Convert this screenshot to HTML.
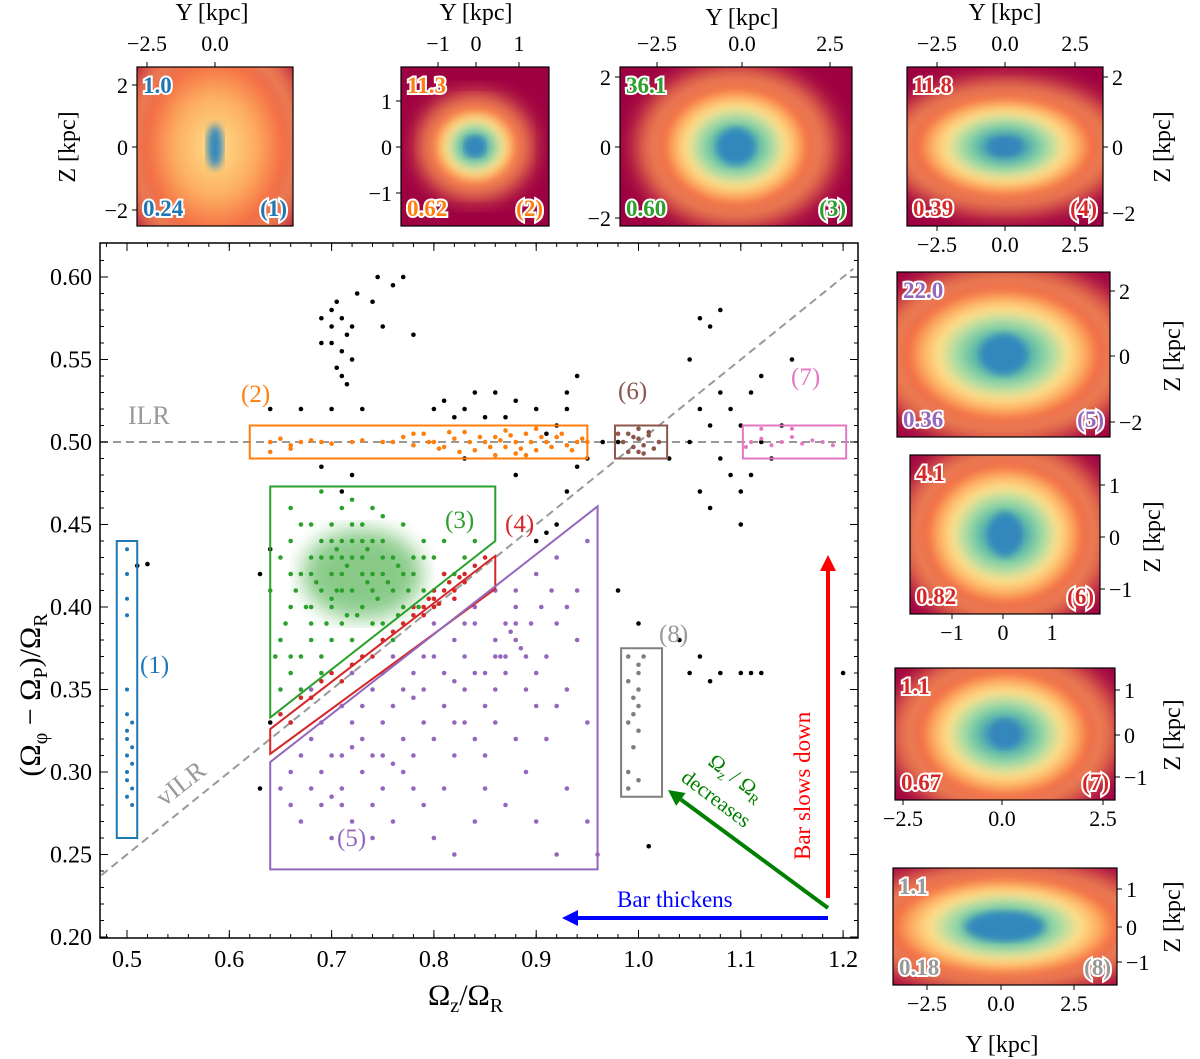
<!DOCTYPE html>
<html><head><meta charset="utf-8"><style>
html,body{margin:0;padding:0;background:#fff}
svg{display:block;font-family:"Liberation Serif","DejaVu Serif",serif}
</style></head><body>
<svg id="fig" width="1200" height="1059" viewBox="0 0 1200 1059" xmlns="http://www.w3.org/2000/svg">
<defs>
<radialGradient id="spec" cx="50%" cy="50%" r="50%">
<stop offset="0" stop-color="#5e4fa2"/><stop offset="0.15" stop-color="#3288bd"/><stop offset="0.3" stop-color="#66c2a5"/><stop offset="0.45" stop-color="#abdda4"/><stop offset="0.6" stop-color="#fee08b"/><stop offset="0.75" stop-color="#fdae61"/><stop offset="0.88" stop-color="#f46d43"/><stop offset="1" stop-color="#d53e4f" stop-opacity="0"/>
</radialGradient>
<radialGradient id="spec2" cx="50%" cy="50%" r="50%">
<stop offset="0" stop-color="#fee08b"/><stop offset="0.5" stop-color="#fdae61"/><stop offset="0.85" stop-color="#f46d43"/><stop offset="1" stop-color="#d53e4f" stop-opacity="0"/>
</radialGradient>
<filter id="blur"><feGaussianBlur stdDeviation="4"/></filter>
<filter id="blur2"><feGaussianBlur stdDeviation="10"/></filter>
</defs>
<g id="insets"></g>
<g id="main"></g>
</svg>
<script>
// ===== Main chart data =====
const xTicks=[0.5,0.6,0.7,0.8,0.9,1.0,1.1,1.2];
const yTicks=[0.20,0.25,0.30,0.35,0.40,0.45,0.50,0.55,0.60];
const blackPts=[[0.69,0.575],[0.70,0.58],[0.705,0.585],[0.71,0.575],[0.72,0.57],[0.715,0.565],[0.70,0.56],[0.71,0.555],[0.72,0.55],[0.705,0.545],[0.71,0.54],[0.715,0.535],[0.70,0.57],[0.725,0.59],[0.74,0.585],[0.76,0.595],[0.77,0.60],[0.745,0.60],[0.69,0.56],[0.75,0.57],[0.78,0.565],[0.64,0.52],[0.67,0.52],[0.70,0.52],[0.73,0.52],[0.81,0.525],[0.83,0.52],[0.84,0.53],[0.86,0.53],[0.88,0.525],[0.87,0.515],[0.85,0.515],[0.82,0.515],[0.80,0.52],[0.72,0.48],[0.69,0.485],[0.71,0.47],[0.83,0.49],[0.88,0.48],[0.90,0.52],[0.91,0.505],[0.92,0.51],[0.93,0.52],[0.94,0.54],[0.93,0.53],[0.95,0.49],[0.94,0.485],[0.93,0.47],[0.92,0.45],[0.91,0.445],[0.90,0.44],[0.965,0.50],[0.98,0.50],[1.06,0.575],[1.07,0.57],[1.08,0.58],[1.05,0.55],[1.08,0.53],[1.09,0.52],[1.10,0.51],[1.11,0.53],[1.12,0.54],[1.06,0.52],[1.07,0.51],[1.05,0.50],[1.08,0.49],[1.09,0.48],[1.10,0.47],[1.11,0.48],[1.06,0.47],[1.07,0.46],[1.12,0.50],[1.13,0.49],[1.14,0.51],[1.15,0.55],[1.10,0.45],[1.03,0.49],[1.04,0.38],[1.06,0.37],[1.08,0.36],[1.05,0.36],[1.07,0.355],[1.10,0.36],[1.12,0.36],[1.00,0.39],[0.98,0.41],[1.01,0.255],[0.52,0.426],[0.51,0.425],[0.63,0.42],[0.64,0.435],[0.63,0.29],[1.20,0.36],[1.11,0.36],[0.64,0.33]];
const blueGroup=[[0.50,0.435],[0.50,0.42],[0.50,0.405],[0.50,0.395],[0.50,0.35],[0.50,0.335],[0.505,0.33],[0.50,0.32],[0.505,0.315],[0.50,0.31],[0.50,0.30],[0.505,0.29],[0.50,0.285],[0.505,0.28],[0.50,0.325],[0.505,0.305],[0.50,0.295]];
const orangeGroup=[[0.64,0.50],[0.65,0.502],[0.66,0.498],[0.67,0.50],[0.68,0.501],[0.69,0.50],[0.70,0.499],[0.72,0.50],[0.73,0.501],[0.75,0.50],[0.77,0.503],[0.78,0.498],[0.79,0.505],[0.80,0.50],[0.81,0.497],[0.82,0.502],[0.83,0.506],[0.84,0.495],[0.85,0.50],[0.86,0.503],[0.87,0.497],[0.88,0.50],[0.89,0.505],[0.90,0.495],[0.91,0.50],[0.92,0.503],[0.93,0.498],[0.94,0.50],[0.95,0.50],[0.835,0.50],[0.845,0.503],[0.855,0.497],[0.865,0.501],[0.875,0.504],[0.885,0.496],[0.895,0.50],[0.905,0.503],[0.915,0.497],[0.86,0.492],[0.87,0.507],[0.88,0.493],[0.825,0.494],[0.815,0.506],[0.805,0.496],[0.795,0.50],[0.78,0.505],[0.76,0.50],[0.925,0.505],[0.935,0.495],[0.945,0.502],[0.90,0.508],[0.89,0.492],[0.64,0.494],[0.66,0.496]];
const greenGroup=[[0.66,0.44],[0.68,0.43],[0.70,0.45],[0.71,0.44],[0.72,0.43],[0.73,0.42],[0.74,0.44],[0.75,0.43],[0.72,0.41],[0.70,0.42],[0.69,0.41],[0.67,0.42],[0.66,0.40],[0.68,0.39],[0.70,0.40],[0.73,0.40],[0.76,0.41],[0.78,0.42],[0.80,0.43],[0.82,0.42],[0.79,0.44],[0.77,0.45],[0.74,0.46],[0.71,0.46],[0.69,0.47],[0.72,0.465],[0.75,0.455],[0.65,0.38],[0.67,0.37],[0.66,0.36],[0.68,0.38],[0.70,0.38],[0.71,0.39],[0.65,0.35],[0.72,0.44],[0.73,0.45],[0.71,0.42],[0.74,0.42],[0.76,0.43],[0.69,0.44],[0.67,0.45],[0.66,0.46],[0.65,0.43],[0.64,0.41],[0.70,0.43],[0.73,0.43],[0.75,0.44],[0.78,0.43],[0.81,0.44],[0.83,0.43],[0.84,0.44],[0.79,0.41],[0.77,0.40],[0.75,0.39],[0.72,0.38],[0.69,0.36],[0.67,0.35],[0.68,0.40],[0.71,0.41],[0.74,0.41],[0.73,0.44],[0.70,0.44],[0.72,0.45],[0.68,0.42],[0.66,0.42],[0.75,0.42],[0.77,0.42],[0.79,0.43],[0.71,0.43],[0.69,0.43],[0.655,0.39],[0.665,0.41],[0.675,0.40],[0.685,0.415],[0.695,0.39],[0.705,0.41],[0.715,0.425],[0.725,0.395],[0.735,0.415],[0.745,0.405],[0.755,0.415],[0.765,0.395],[0.775,0.41],[0.785,0.40],[0.80,0.41],[0.81,0.42],[0.765,0.425],[0.735,0.435],[0.705,0.435],[0.68,0.45],[0.70,0.405],[0.715,0.395],[0.74,0.39],[0.76,0.38],[0.69,0.37],[0.66,0.37],[0.645,0.37]];
const redGroup=[[0.65,0.335],[0.67,0.345],[0.69,0.355],[0.70,0.36],[0.72,0.365],[0.73,0.37],[0.75,0.38],[0.76,0.385],[0.77,0.39],[0.78,0.395],[0.79,0.40],[0.80,0.405],[0.81,0.41],[0.82,0.41],[0.83,0.42],[0.84,0.425],[0.85,0.43],[0.80,0.40],[0.81,0.42],[0.82,0.405],[0.79,0.395],[0.74,0.37],[0.71,0.355],[0.68,0.345],[0.66,0.33],[0.83,0.415],[0.80,0.41],[0.78,0.40],[0.815,0.415],[0.805,0.402],[0.825,0.418],[0.795,0.405]];
const purpleGroup=[[0.66,0.30],[0.68,0.32],[0.70,0.31],[0.72,0.33],[0.74,0.35],[0.76,0.34],[0.78,0.36],[0.80,0.37],[0.82,0.38],[0.84,0.39],[0.86,0.38],[0.88,0.39],[0.87,0.37],[0.85,0.36],[0.83,0.35],[0.81,0.34],[0.79,0.33],[0.77,0.32],[0.75,0.31],[0.73,0.30],[0.71,0.29],[0.69,0.28],[0.67,0.27],[0.70,0.26],[0.74,0.28],[0.78,0.29],[0.82,0.31],[0.86,0.33],[0.90,0.36],[0.92,0.39],[0.94,0.41],[0.93,0.35],[0.91,0.32],[0.89,0.30],[0.87,0.28],[0.84,0.27],[0.80,0.26],[0.76,0.27],[0.72,0.27],[0.88,0.41],[0.90,0.42],[0.92,0.43],[0.95,0.44],[0.94,0.38],[0.95,0.33],[0.95,0.27],[0.96,0.25],[0.93,0.29],[0.85,0.31],[0.81,0.29],[0.77,0.30],[0.73,0.32],[0.69,0.30],[0.65,0.29],[0.66,0.33],[0.68,0.35],[0.72,0.36],[0.76,0.37],[0.80,0.39],[0.84,0.40],[0.86,0.41],[0.88,0.38],[0.89,0.37],[0.87,0.39],[0.83,0.37],[0.79,0.35],[0.75,0.33],[0.71,0.31],[0.78,0.31],[0.82,0.33],[0.86,0.35],[0.90,0.34],[0.91,0.37],[0.87,0.36],[0.88,0.40],[0.85,0.34],[0.74,0.26],[0.82,0.25],[0.90,0.27],[0.92,0.25],[0.875,0.385],[0.885,0.375],[0.865,0.37],[0.895,0.39],[0.905,0.40],[0.915,0.41],[0.67,0.31],[0.69,0.33],[0.71,0.34],[0.73,0.34],[0.75,0.36],[0.77,0.35],[0.79,0.37],[0.81,0.36],[0.83,0.33],[0.85,0.29],[0.79,0.28],[0.75,0.29],[0.71,0.28],[0.68,0.29],[0.74,0.31],[0.80,0.32],[0.84,0.32],[0.88,0.32],[0.92,0.34],[0.93,0.40],[0.89,0.35],[0.76,0.305],[0.72,0.315],[0.70,0.285],[0.66,0.28],[0.78,0.345],[0.82,0.355],[0.86,0.37],[0.84,0.36],[0.83,0.39]];
const brownGroup=[[0.985,0.50],[0.99,0.505],[0.995,0.497],[1.00,0.502],[1.005,0.498],[1.01,0.504],[1.015,0.496],[1.00,0.494],[0.99,0.494],[1.01,0.506],[1.02,0.50],[0.98,0.505],[1.00,0.508],[0.995,0.503],[1.005,0.493]];
const pinkGroup=[[1.11,0.50],[1.12,0.502],[1.13,0.498],[1.14,0.50],[1.15,0.503],[1.16,0.499],[1.17,0.501],[1.18,0.50],[1.12,0.508],[1.15,0.508],[1.19,0.498],[1.105,0.497]];
const greyGroup=[[0.99,0.37],[1.00,0.365],[0.99,0.355],[1.00,0.35],[0.995,0.345],[1.00,0.34],[0.99,0.33],[1.00,0.325],[0.995,0.315],[0.99,0.30],[1.00,0.295],[0.99,0.29],[1.00,0.36],[0.995,0.335],[1.005,0.37]];

const NS="http://www.w3.org/2000/svg";
const X=v=>127+(v-0.5)*1023;
const Y=v=>937-(v-0.2)*1650;
const main=document.getElementById('main');
function mk(tag,attrs,parent){const e=document.createElementNS(NS,tag);for(const k in attrs)e.setAttribute(k,attrs[k]);(parent||main).appendChild(e);return e;}

const cp=mk('clipPath',{id:'plotclip'});mk('rect',{x:100,y:243,width:758,height:695},cp);
const plot=mk('g',{'clip-path':'url(#plotclip)'});



const ilr=mk('line',{x1:100,y1:Y(0.5),x2:858,y2:Y(0.5),stroke:'#999',"stroke-width":2,"stroke-dasharray":"8,5"},plot);


const vilr=mk('line',{x1:X(0.475),y1:Y(0.2375),x2:X(1.21),y2:Y(0.605),stroke:'#999',"stroke-width":2,"stroke-dasharray":"8,5"},plot);



const gc=mk('ellipse',{cx:X(0.73),cy:Y(0.42),rx:60,ry:45,fill:'#2ca02c',opacity:0.55,filter:'url(#blur2)'},plot);



function scatter(arr,color,name,r){
  const g=mk('g',{},plot);
  
  
  arr.forEach(p=>{const c=mk('circle',{cx:X(p[0]),cy:Y(p[1]),r:r||2.3,fill:color},g);
    
    });
}
scatter(purpleGroup,'#9467bd','purple-group-5');
scatter(greenGroup,'#2ca02c','green-group-3');
scatter(redGroup,'#d62728','red-group-4');
scatter(blackPts,'#000','black-points');
scatter(orangeGroup,'#ff7f0e','orange-group-2');
scatter(blueGroup,'#1f77b4','blue-group-1',2);
scatter(brownGroup,'#8c564b','brown-group-6');
scatter(pinkGroup,'#e377c2','pink-group-7',2);
scatter(greyGroup,'#7f7f7f','grey-group-8');

function poly(pts,color,name){const p=mk('polygon',{points:pts.map(q=>X(q[0])+','+Y(q[1])).join(' '),fill:'none',stroke:color,'stroke-width':2},plot);
  
  }
poly([[0.49,0.44],[0.51,0.44],[0.51,0.26],[0.49,0.26]],'#1f77b4','box-1');
poly([[0.62,0.51],[0.95,0.51],[0.95,0.49],[0.62,0.49]],'#ff7f0e','box-2');
poly([[0.64,0.473],[0.86,0.473],[0.86,0.44],[0.64,0.333]],'#2ca02c','polygon-3');
poly([[0.64,0.326],[0.86,0.431],[0.86,0.411],[0.64,0.311]],'#d62728','polygon-4');
poly([[0.64,0.306],[0.96,0.461],[0.96,0.241],[0.64,0.241]],'#9467bd','polygon-5');
poly([[0.977,0.51],[1.028,0.51],[1.028,0.49],[0.977,0.49]],'#8c564b','box-6');
poly([[1.102,0.51],[1.203,0.51],[1.203,0.49],[1.102,0.49]],'#e377c2','box-7');
poly([[0.983,0.375],[1.023,0.375],[1.023,0.285],[0.983,0.285]],'#7f7f7f','box-8');

function txt(x,y,s,opt){const t=mk('text',Object.assign({x:x,y:y,'font-size':24},opt||{}));t.textContent=s;return t;}
function lab(x,y,s,color,name,extra){const t=txt(x,y,s,Object.assign({fill:color,'font-size':25},extra||{}));return t;}
lab(128,424,'ILR','#999','ilr-label',{'font-size':26});
lab(155,800,'vILR','#999','vilr-label',{'font-size':26,transform:'rotate(-38 170 790)'});
lab(140,673,'(1)','#1f77b4','label-1');
lab(241,402,'(2)','#ff7f0e','label-2');
lab(445,528,'(3)','#2ca02c','label-3');
lab(505,532,'(4)','#d62728','label-4');
lab(337,846,'(5)','#9467bd','label-5');
lab(618,399,'(6)','#8c564b','label-6');
lab(791,385,'(7)','#e377c2','label-7');
lab(659,642,'(8)','#999','label-8');

function arrow(x1,y1,x2,y2,color,name){
  const g=mk('g',{});
  const a=Math.atan2(y2-y1,x2-x1),L=16,W=8;
  const bx=x2-L*Math.cos(a),by=y2-L*Math.sin(a);
  mk('line',{x1:x1,y1:y1,x2:bx,y2:by,stroke:color,'stroke-width':4},g);
  mk('polygon',{points:`${x2},${y2} ${bx+W*Math.sin(a)},${by-W*Math.cos(a)} ${bx-W*Math.sin(a)},${by+W*Math.cos(a)}`,fill:color},g);
}
arrow(828,898,828,555,'#ff0000','arrow-bar-slows');
arrow(828,918,562,918,'#0000ff','arrow-bar-thickens');
arrow(828,908,668,790,'#008000','arrow-freq-decreases');
lab(810,860,'Bar slows down','#ff0000','label-bar-slows',{transform:'rotate(-90 810 860)','font-size':23});
lab(617,907,'Bar thickens','#0000ff','label-bar-thickens',{'font-size':23});
const rl=lab(707,764,'','#008000','label-ratio',{transform:'rotate(37 707 764)','font-size':21});
rl.innerHTML='Ω<tspan font-size="14" dy="5">z</tspan><tspan dy="-5"> / Ω</tspan><tspan font-size="14" dy="5">R</tspan>';
lab(680,780,'decreases','#008000','label-decreases',{transform:'rotate(37 680 780)','font-size':21});

const fr=mk('rect',{x:100,y:243,width:758,height:695,fill:'none',stroke:'#000','stroke-width':1.5});

xTicks.forEach(v=>{const x=X(v);mk('line',{x1:x,y1:938,x2:x,y2:930,stroke:'#000'});mk('line',{x1:x,y1:243,x2:x,y2:251,stroke:'#000'});
  const t=txt(x,967,v.toFixed(1),{'text-anchor':'middle'});});
for(let v=0.48;v<=1.22;v+=0.02){const x=X(v);if(x<100||x>858)continue;mk('line',{x1:x,y1:938,x2:x,y2:934,stroke:'#000'});mk('line',{x1:x,y1:243,x2:x,y2:247,stroke:'#000'});}
yTicks.forEach(v=>{const y=Y(v);mk('line',{x1:100,y1:y,x2:108,y2:y,stroke:'#000'});mk('line',{x1:858,y1:y,x2:850,y2:y,stroke:'#000'});
  const t=txt(92,y+8,v.toFixed(2),{'text-anchor':'end'});});
for(let v=0.20;v<=0.62;v+=0.01){const y=Y(v);if(y<243)continue;mk('line',{x1:100,y1:y,x2:104,y2:y,stroke:'#000'});mk('line',{x1:858,y1:y,x2:854,y2:y,stroke:'#000'});}
const xl=txt(428,1005,'',{'font-size':30});
xl.innerHTML='Ω<tspan font-size="20" dy="7">z</tspan><tspan dy="-7">/Ω</tspan><tspan font-size="20" dy="7">R</tspan>';
const yl=txt(40,695,'',{'font-size':30,transform:'rotate(-90 40 695)','text-anchor':'middle'});
yl.innerHTML='(Ω<tspan font-size="20" dy="7">φ</tspan><tspan dy="-7"> − Ω</tspan><tspan font-size="20" dy="7">P</tspan><tspan dy="-7">)/Ω</tspan><tspan font-size="20" dy="7">R</tspan>';

// ===== Insets =====
const ins=document.getElementById('insets');
function inset(o){
  const g=mk('g',{},ins);
  
  
  const cid='ic'+o.id;const c=mk('clipPath',{id:cid},g);mk('rect',{x:o.x,y:o.y,width:o.w,height:o.h},c);
  const h=mk('g',{'clip-path':`url(#${cid})`},g);
  mk('rect',{x:o.x,y:o.y,width:o.w,height:o.h,fill:'#9e0142'},h);
  mk('ellipse',{cx:o.x+o.w/2,cy:o.y+o.h/2,rx:o.rx*1.25,ry:o.ry*1.25,fill:'#e0604a',filter:'url(#blur2)'},h);
  mk('ellipse',{cx:o.x+o.w/2,cy:o.y+o.h/2,rx:o.rx*1.05,ry:o.ry*1.05,fill:'#fdae61',opacity:0.6,filter:'url(#blur2)'},h);
  mk('ellipse',{cx:o.x+o.w/2,cy:o.y+o.h/2,rx:o.rx,ry:o.ry,fill:o.g2?'url(#spec2)':'url(#spec)',filter:'url(#blur)'},h);
  if(o.core) mk('ellipse',{cx:o.x+o.w/2,cy:o.y+o.h/2,rx:o.core[0],ry:o.core[1],fill:'#3288bd',filter:'url(#blur)'},h);
  mk('rect',{x:o.x,y:o.y,width:o.w,height:o.h,fill:'none',stroke:'#000','stroke-width':1.2},g);
  const st={'font-size':23,'font-weight':'bold',stroke:'#fff','stroke-width':4,'paint-order':'stroke',fill:o.col};
  let t=txt(o.x+6,o.y+26,o.tl,st);
  t=txt(o.x+6,o.y+o.h-10,o.bl,st);
  t=txt(o.x+o.w-6,o.y+o.h-10,o.br,Object.assign({'text-anchor':'end'},st));
  o.xt.forEach(q=>{const x=q[0];
    if(o.xtop){mk('line',{x1:x,y1:o.y,x2:x,y2:o.y-5,stroke:'#000'},g);const a=txt(x,o.y-16,q[1],{'text-anchor':'middle','font-size':22});g.appendChild(a);}
    if(o.xbot){mk('line',{x1:x,y1:o.y+o.h,x2:x,y2:o.y+o.h+5,stroke:'#000'},g);const a=txt(x,o.y+o.h+26,q[1],{'text-anchor':'middle','font-size':22});g.appendChild(a);}
  });
  o.yt.forEach(q=>{const y=q[0];
    if(o.yleft){mk('line',{x1:o.x,y1:y,x2:o.x-5,y2:y,stroke:'#000'},g);const a=txt(o.x-9,y+8,q[1],{'text-anchor':'end','font-size':22});g.appendChild(a);}
    else {mk('line',{x1:o.x+o.w,y1:y,x2:o.x+o.w+5,y2:y,stroke:'#000'},g);const a=txt(o.x+o.w+9,y+8,q[1],{'font-size':22});g.appendChild(a);}
  });
  if(o.xlab){const a=txt(o.xlab[0],o.xlab[1],'Y [kpc]',{'text-anchor':'middle','font-size':24});g.appendChild(a);}
  if(o.ylab){const a=txt(o.ylab[0],o.ylab[1],'Z [kpc]',{'text-anchor':'middle','font-size':24,transform:`rotate(-90 ${o.ylab[0]} ${o.ylab[1]})`});g.appendChild(a);}
}
inset({id:1,x:137,y:67,w:156,h:159,rx:80,ry:100,g2:true,core:[8,22],col:'#1f77b4',tl:'1.0',bl:'0.24',br:'(1)',xtop:true,yleft:true,
  xt:[[147,'−2.5'],[215,'0.0']],yt:[[85,'2'],[147,'0'],[210,'−2']],xlab:[212,20],ylab:[75,147]});
inset({id:2,x:401,y:67,w:148,h:159,rx:48,ry:44,core:[10,10],col:'#ff7f0e',tl:'11.3',bl:'0.62',br:'(2)',xtop:true,yleft:true,
  xt:[[438,'−1'],[476,'0'],[519,'1']],yt:[[101,'1'],[147,'0'],[193,'−1']],xlab:[476,20],ylab:null});
inset({id:3,x:620,y:67,w:232,h:159,rx:82,ry:66,core:[18,18],col:'#2ca02c',tl:'36.1',bl:'0.60',br:'(3)',xtop:true,yleft:true,
  xt:[[657,'−2.5'],[742,'0.0'],[830,'2.5']],yt:[[77,'2'],[147,'0'],[218,'−2']],xlab:[742,25],ylab:null});
inset({id:4,x:907,y:67,w:196,h:159,rx:98,ry:56,core:[15,8],col:'#d62728',tl:'11.8',bl:'0.39',br:'(4)',xbot:true,xtop:true,yleft:false,
  xt:[[937,'−2.5'],[1005,'0.0'],[1075,'2.5']],yt:[[77,'2'],[147,'0'],[213,'−2']],xlab:[1005,20],ylab:[1170,147]});
inset({id:5,x:897,y:272,w:213,h:165,rx:108,ry:74,core:[22,20],col:'#9467bd',tl:'22.0',bl:'0.36',br:'(5)',yleft:false,
  xt:[],yt:[[291,'2'],[356,'0'],[422,'−2']],ylab:[1180,356]});
inset({id:6,x:910,y:455,w:190,h:159,rx:88,ry:78,core:[15,22],col:'#d62728',tl:'4.1',bl:'0.82',br:'(6)',xbot:true,yleft:false,
  xt:[[952,'−1'],[1003,'0'],[1052,'1']],yt:[[485,'1'],[537,'0'],[589,'−1']],ylab:[1160,537]});
inset({id:7,x:895,y:668,w:220,h:132,rx:95,ry:70,core:[12,14],col:'#d62728',tl:'1.1',bl:'0.67',br:'(7)',xbot:true,yleft:false,
  xt:[[903,'−2.5'],[1002,'0.0'],[1103,'2.5']],yt:[[690,'1'],[735,'0'],[777,'−1']],ylab:[1180,735]});
inset({id:8,x:893,y:868,w:224,h:117,rx:125,ry:55,core:[40,14],col:'#999',tl:'1.1',bl:'0.18',br:'(8)',xbot:true,yleft:false,
  xt:[[927,'−2.5'],[1001,'0.0'],[1074,'2.5']],yt:[[889,'1'],[927,'0'],[962,'−1']],xlab:[1002,1052],ylab:[1180,917]});
</script>
</body></html>
